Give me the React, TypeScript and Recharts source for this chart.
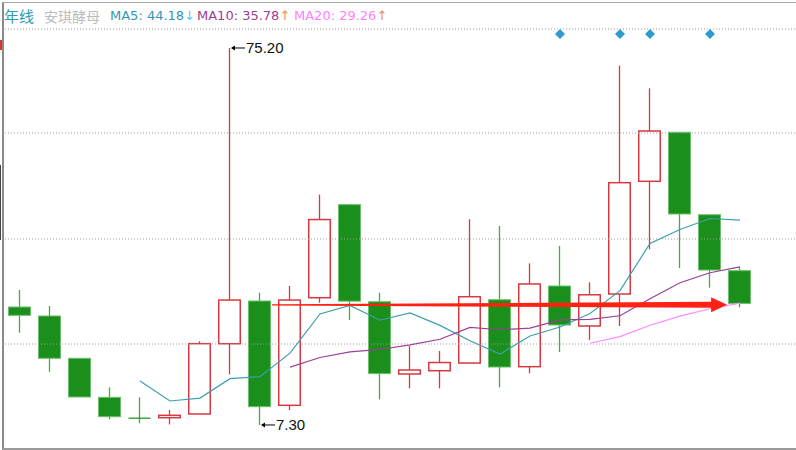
import { ComposedChart, Bar, Line, Scatter, XAxis, YAxis, ReferenceLine, ReferenceDot } from "recharts"

// yearly candles (安琪酵母, 年线)
const opens = [28.55, 26.93, 19.31, 12.28, 8.63, 8.61, 9.28, 21.94, 29.63, 10.84, 30.22, 46.98, 29.5, 16.48, 17.07, 18.46, 29.86, 17.8, 32.33, 25.13, 30.89, 51.19, 60.02, 45.17, 35.09]
const highs = [31.61, 28.73, 19.31, 14.08, 12.28, 10.0, 22.37, 75.2, 31.12, 32.33, 48.78, 46.98, 31.12, 21.52, 20.62, 44.35, 43.14, 36.42, 39.54, 33.0, 72.01, 67.94, 60.02, 45.17, 35.7]
const lows = [23.92, 16.89, 12.34, 8.32, 7.6, 7.4, 9.28, 16.43, 7.3, 10.0, 29.32, 26.21, 11.92, 13.9, 13.9, 18.46, 14.08, 16.61, 20.44, 22.6, 25.13, 38.94, 35.57, 32.03, 28.49]
const closes = [27.05, 19.31, 12.34, 8.79, 8.61, 9.04, 21.95, 29.8, 10.59, 29.8, 44.3, 29.6, 16.55, 17.2, 18.55, 30.4, 17.74, 32.7, 25.31, 30.75, 50.94, 60.25, 45.3, 35.21, 29.2]

const ma5 = [null, null, null, null, 15.22, 11.62, 12.15, 15.64, 16.0, 20.24, 27.29, 28.82, 26.17, 27.49, 25.24, 22.46, 20.09, 23.32, 24.94, 27.38, 31.49, 39.99, 42.51, 44.49, 44.18]
const ma10 = [null, null, null, null, null, null, null, null, null, 17.73, 19.45, 20.48, 20.9, 21.74, 22.74, 24.87, 24.45, 24.74, 26.22, 26.31, 26.97, 30.04, 32.91, 34.72, 35.78]
const ma20 = [null, null, null, null, null, null, null, null, null, null, null, null, null, null, null, null, null, null, null, 22.02, 23.21, 25.26, 26.91, 28.23, 29.26]

// blue diamond signals on top
const signalIdx = [19, 21, 22, 24]
const signalLevel = 77.7

// dotted horizontal grid levels
const gridLevels = [21.88, 40.8, 59.89, 78.62]

// red trend arrow (candle index, price)
const arrowFrom = { x: 9.4, y: 28.95 }
const arrowTo = { x: 24.57, y: 28.95 }

const rows = closes.map((c, k) => ({
    i: k + 1,
    open: opens[k],
    high: highs[k],
    low: lows[k],
    close: c,
    range: [lows[k], highs[k]],
    ma5: ma5[k],
    ma10: ma10[k],
    ma20: ma20[k],
}))

const signals = signalIdx.map((i) => ({ i, s: signalLevel }))

const maxHigh = Math.max(...highs)
const minLow = Math.min(...lows)
const maxIdx = highs.indexOf(maxHigh) + 1
const minIdx = lows.indexOf(minLow) + 1

const RED = "#d63a40"
const GREEN = "#1b8f1b"
const GREEN_WICK = "#3fae3f"

const Candle = (props: any) => {
    const { x, y, width, height, payload } = props
    if (x == null || y == null) return null
    const { open, close, high, low } = payload
    const top = Math.min(y, y + height)
    const h = Math.abs(height)
    const k = h / (high - low || 1)
    const yo = top + (high - open) * k
    const yc = top + (high - close) * k
    const up = close > open
    const cx = x + width / 2
    const bTop = Math.min(yo, yc)
    const bBot = Math.max(yo, yc)
    if (up) {
        return (
            <g>
                <line x1={cx} x2={cx} y1={top} y2={bTop} stroke={RED} strokeWidth={1.3} />
                <line x1={cx} x2={cx} y1={bBot} y2={top + h} stroke={RED} strokeWidth={1.3} />
                <rect x={x + 0.75} y={bTop} width={width - 1.5} height={Math.max(bBot - bTop, 1.5)} fill="#fff" stroke={RED} strokeWidth={1.5} />
            </g>
        )
    }
    return (
        <g>
            <line x1={cx} x2={cx} y1={top} y2={top + h} stroke={GREEN_WICK} strokeWidth={1.3} />
            <rect x={x + 0.5} y={bTop} width={width - 1} height={Math.max(bBot - bTop, 1.2)} fill={GREEN} stroke="#6cbf6c" strokeWidth={bBot - bTop < 2 ? 0 : 1} />
        </g>
    )
}

const Diamond = (props: any) => {
    const { cx, cy } = props
    return <polygon points={`${cx},${cy - 5} ${cx + 5},${cy} ${cx},${cy + 5} ${cx - 5},${cy}`} fill="#2e9bd0" />
}

const Arrow = (props: any) => {
    const { x1, y1, x2, y2 } = props
    const y = (y1 + y2) / 2
    const xh = x2 - 16
    const pts = [
        [x1, y - 0.6], [xh, y - 3], [xh, y - 7.5], [x2, y],
        [xh, y + 7.5], [xh, y + 3], [x1, y + 0.6],
    ].map((p) => p.join(",")).join(" ")
    return <polygon points={pts} fill="#ff2212" />
}

const PriceTag = (text: string) => (props: any) => {
    const { cx, cy } = props
    return (
        <g>
            <line x1={cx + 2} x2={cx + 15} y1={cy} y2={cy} stroke="#000" strokeWidth={1} />
            <polygon points={`${cx + 1},${cy} ${cx + 5},${cy - 2.5} ${cx + 5},${cy + 2.5}`} fill="#000" />
            <text x={cx + 16} y={cy + 5} fontSize={15} fontFamily="Liberation Sans, Arial" fill="#111">{text}</text>
        </g>
    )
}

export default function App() {
    return (
        <div style={{ position: "absolute", left: 0, top: 0, width: 796, height: 450, background: "#fff", overflow: "hidden" }}>
            <div style={{ position: "absolute", left: 2, top: 2, width: 792, height: 445, borderLeft: "2px solid #8a8a8a", borderBottom: "2px solid #9a9a9a", borderTop: "1px solid #a8a8a8" }} />
            <div style={{ position: "absolute", left: 0, top: 40, width: 2, height: 10, background: "#e03030" }} />
            <div style={{ position: "absolute", left: 0, top: 165, width: 1, height: 75, background: "#444" }} />
            <ComposedChart width={796} height={450} data={rows} margin={{ top: 3, right: 0, bottom: 3, left: 5 }}>
                <XAxis dataKey="i" type="number" domain={[0.5, 26.8667]} hide allowDataOverflow />
                <YAxis type="number" domain={[3.333, 83.305]} hide allowDataOverflow />
                {gridLevels.map((v) => (
                    <ReferenceLine key={v} y={v} stroke="#9c9c9c" strokeDasharray="1 2" ifOverflow="visible" />
                ))}
                <Bar dataKey="range" barSize={23} shape={<Candle />} isAnimationActive={false} />
                <Line type="linear" dataKey="ma5" stroke="#3d9fb0" strokeWidth={1.2} dot={false} isAnimationActive={false} />
                <Line type="linear" dataKey="ma10" stroke="#9b4094" strokeWidth={1.2} dot={false} isAnimationActive={false} />
                <Line type="linear" dataKey="ma20" stroke="#ff8aff" strokeWidth={1.2} dot={false} isAnimationActive={false} />
                <Scatter data={signals} dataKey="s" shape={<Diamond />} isAnimationActive={false} />
                <ReferenceLine segment={[arrowFrom, arrowTo]} shape={Arrow} ifOverflow="visible" />
                <ReferenceDot x={maxIdx} y={maxHigh} r={0} shape={PriceTag(maxHigh.toFixed(2))} ifOverflow="visible" />
                <ReferenceDot x={minIdx} y={minLow} r={0} shape={PriceTag(minLow.toFixed(2))} ifOverflow="visible" />
            </ComposedChart>
            <div style={{ position: "absolute", left: 4, top: 7, fontFamily: "DejaVu Sans, Noto Sans CJK SC", fontSize: 13, whiteSpace: "nowrap", lineHeight: "18px" }}>
                <span style={{ position: "absolute", left: 0, color: "#2a9bb0", fontFamily: "Noto Sans CJK SC", fontSize: 15 }}>年线</span>
                <span style={{ position: "absolute", left: 40, color: "#bcbcbc", fontFamily: "Noto Sans CJK SC", fontSize: 14 }}>安琪酵母</span>
                <span style={{ position: "absolute", left: 106, color: "#3497b4" }}>MA5: 44.18<span style={{ color: "#5fcbef" }}>↓</span></span>
                <span style={{ position: "absolute", left: 193, color: "#9b3d91" }}>MA10: 35.78<span style={{ color: "#f88a5a" }}>↑</span></span>
                <span style={{ position: "absolute", left: 290, color: "#ff80ff" }}>MA20: 29.26<span style={{ color: "#f88a5a" }}>↑</span></span>
            </div>
        </div>
    )
}
